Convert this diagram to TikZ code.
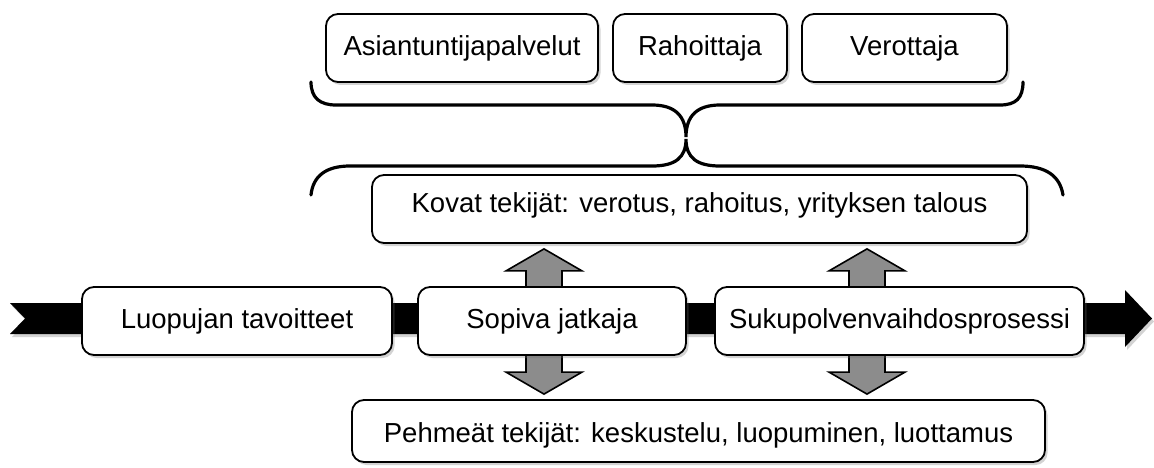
\documentclass[tikz,border=0pt]{standalone}
\usepackage{fontspec}
\setmainfont{Liberation Sans}
\usetikzlibrary{calc, shadows, backgrounds}

\begin{document}
\begin{tikzpicture}[x=1pt, y=-1pt, font=\fontsize{27.5}{33}\selectfont]
    % Define local colors
    \definecolor{armgray}{RGB}{140, 140, 140}
    \definecolor{shadegray}{RGB}{110, 110, 110}
    \tikzset{
        box/.style={draw, fill=white, rounded corners=12pt, line width=1.8pt, inner sep=0pt,
            drop shadow={shadow xshift=2.5pt, shadow yshift=-3pt, opacity=0.3, fill=shadegray}},
        brace/.style={line width=3.2pt, line cap=round},
        blockarr/.style={fill=armgray, draw=black, line width=1.6pt, line join=miter}
    }
    \useasboundingbox (0,0) rectangle (1154,468);

    % Process band behind the steps
    \fill[black, drop shadow={shadow xshift=2pt, shadow yshift=-3pt, opacity=0.3, fill=shadegray}]
        (10,303) -- (1125,303) -- (1125,290) -- (1152,318.5) -- (1125,347) -- (1125,334)
        -- (10,334) -- (25,318.5) -- cycle;

    % LEVEL 1: Outside parties
    \foreach \name/\xc/\w/\txt in {asiant/462/272/Asiantuntijapalvelut, rahoit/700/174/Rahoittaja, verott/904.5/205/Verottaja} {
        \node[box, minimum width=\w pt, minimum height=68pt] (\name) at (\xc, 48) {\txt};
    }

    % Joining braces
    \draw[brace] (311,82) .. controls (311,98) and (320,105) .. (336,105) -- (652,105)
        .. controls (675,105) and (686,116) .. (686,137)
        .. controls (686,116) and (697,105) .. (720,105) -- (1000,105)
        .. controls (1016,105) and (1023,98) .. (1023,82);
    \draw[brace] (311,195) .. controls (313,176) and (326,166) .. (350,166) -- (652,166)
        .. controls (675,166) and (686,158) .. (686,139)
        .. controls (686,158) and (697,166) .. (720,166) -- (1020,166)
        .. controls (1046,166) and (1060,176) .. (1063,195);

    % LEVEL 2: Hard factors
    \node[box, minimum width=655pt, text height=37pt, text depth=31pt] (kovat) at (699.5, 209)
        {Kovat tekijät: verotus, rahoitus, yrityksen talous};

    % LEVEL 3: Steps on the band
    \foreach \name/\xc/\w/\txt in {luop/237/310/Luopujan tavoitteet, sopiva/552/268/Sopiva jatkaja, suku/899.5/369/Sukupolvenvaihdosprosessi} {
        \node[box, minimum width=\w pt, minimum height=68pt] (\name) at (\xc, 321) {\txt};
    }

    % LEVEL 4: Soft factors
    \node[box, minimum width=693pt, text height=42pt, text depth=20pt] (pehmea) at (698.5, 431)
        {Pehmeät tekijät: keskustelu, luopuminen, luottamus};

    % Block arrows (behind the boxes)
    \begin{pgfonlayer}{background}
    \foreach \ax/\from/\to/\s in {544/sopiva.north/kovat.south/1, 867/suku.north/kovat.south/1,
                                  544/sopiva.south/pehmea.north/-1, 867/suku.south/pehmea.north/-1} {
        \coordinate (base) at (\ax,0 |- \from);
        \coordinate (tipref) at (\ax,0 |- \to);
        \coordinate (tip) at ($(tipref)+(0,5*\s)$);
        \filldraw[blockarr] ($(base)+(-18,0)$) -- ($(tip)+(-18,22*\s)$) -- ($(tip)+(-38,22*\s)$) -- (tip)
            -- ($(tip)+(38,22*\s)$) -- ($(tip)+(18,22*\s)$) -- ($(base)+(18,0)$);
    }
    \end{pgfonlayer}

\end{tikzpicture}
\end{document}
